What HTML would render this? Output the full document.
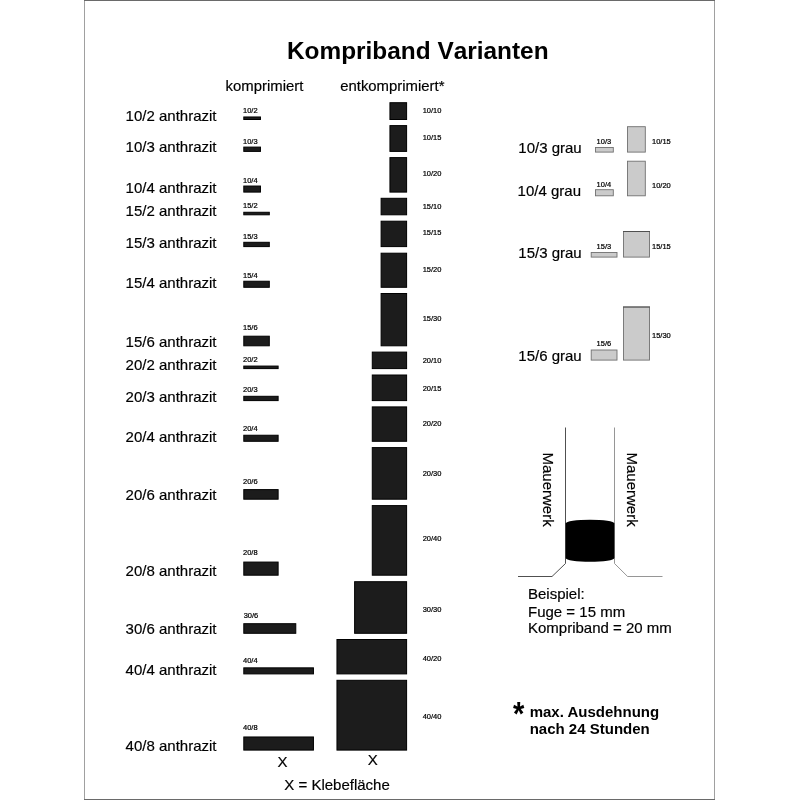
<!DOCTYPE html>
<html lang="de">
<head>
<meta charset="utf-8">
<title>Kompriband Varianten</title>
<style>
html,body{margin:0;padding:0;background:#fff;}
body{width:800px;height:800px;overflow:hidden;}
svg{display:block;}
text{font-family:"Liberation Sans",Arial,Helvetica,sans-serif;fill:#000;}
.big{font-size:15px;stroke:#000;stroke-width:0.18px;}
.sm{font-size:7.5px;fill:#000;stroke:#000;stroke-width:0.22px;}
.b{font-weight:bold;}
</style>
</head>
<body>
<svg width="800" height="800" viewBox="0 0 800 800">
<rect x="0" y="0" width="800" height="800" fill="#ffffff"/>
<!-- frame -->
<rect x="84.5" y="0.5" width="630" height="799" fill="none" stroke="#a0a0a0" stroke-width="1"/>
<line x1="84" y1="0.5" x2="715" y2="0.5" stroke="#6a6a6a" stroke-width="1"/>
<line x1="84" y1="799.5" x2="715" y2="799.5" stroke="#6a6a6a" stroke-width="1"/>

<text class="b" x="287" y="58.9" style="font-size:24.4px;font-kerning:none">Kompriband Varianten</text>
<text class="big" x="225.6" y="91.2" style="font-size:14.9px">komprimiert</text>
<text class="big" x="340.2" y="91.2" style="font-size:14.9px">entkomprimiert*</text>
<!-- entkomprimiert -->
<rect x="389.94" y="102.7" width="16.66" height="16.80" fill="#1c1c1c" stroke="#000" stroke-width="1"/>
<text class="sm" transform="translate(422.70,112.60) scale(1,1.07)">10/10</text>
<rect x="389.94" y="125.6" width="16.66" height="25.80" fill="#1c1c1c" stroke="#000" stroke-width="1"/>
<text class="sm" transform="translate(422.70,139.70) scale(1,1.07)">10/15</text>
<rect x="389.94" y="157.6" width="16.66" height="34.50" fill="#1c1c1c" stroke="#000" stroke-width="1"/>
<text class="sm" transform="translate(422.70,176.40) scale(1,1.07)">10/20</text>
<rect x="381.11" y="198.3" width="25.49" height="16.50" fill="#1c1c1c" stroke="#000" stroke-width="1"/>
<text class="sm" transform="translate(422.70,208.70) scale(1,1.07)">15/10</text>
<rect x="381.11" y="221.2" width="25.49" height="25.40" fill="#1c1c1c" stroke="#000" stroke-width="1"/>
<text class="sm" transform="translate(422.70,235.40) scale(1,1.07)">15/15</text>
<rect x="381.11" y="253.2" width="25.49" height="34.10" fill="#1c1c1c" stroke="#000" stroke-width="1"/>
<text class="sm" transform="translate(422.70,272.10) scale(1,1.07)">15/20</text>
<rect x="381.11" y="293.5" width="25.49" height="52.30" fill="#1c1c1c" stroke="#000" stroke-width="1"/>
<text class="sm" transform="translate(422.70,320.70) scale(1,1.07)">15/30</text>
<rect x="372.28" y="352.1" width="34.32" height="16.50" fill="#1c1c1c" stroke="#000" stroke-width="1"/>
<text class="sm" transform="translate(422.70,362.60) scale(1,1.07)">20/10</text>
<rect x="372.28" y="375.0" width="34.32" height="25.60" fill="#1c1c1c" stroke="#000" stroke-width="1"/>
<text class="sm" transform="translate(422.70,390.80) scale(1,1.07)">20/15</text>
<rect x="372.28" y="406.9" width="34.32" height="34.40" fill="#1c1c1c" stroke="#000" stroke-width="1"/>
<text class="sm" transform="translate(422.70,426.00) scale(1,1.07)">20/20</text>
<rect x="372.28" y="447.6" width="34.32" height="51.60" fill="#1c1c1c" stroke="#000" stroke-width="1"/>
<text class="sm" transform="translate(422.70,475.60) scale(1,1.07)">20/30</text>
<rect x="372.28" y="505.6" width="34.32" height="69.60" fill="#1c1c1c" stroke="#000" stroke-width="1"/>
<text class="sm" transform="translate(422.70,540.60) scale(1,1.07)">20/40</text>
<rect x="354.62" y="581.7" width="51.98" height="51.60" fill="#1c1c1c" stroke="#000" stroke-width="1"/>
<text class="sm" transform="translate(422.70,611.90) scale(1,1.07)">30/30</text>
<rect x="336.96" y="639.5" width="69.64" height="34.40" fill="#1c1c1c" stroke="#000" stroke-width="1"/>
<text class="sm" transform="translate(422.70,660.60) scale(1,1.07)">40/20</text>
<rect x="336.96" y="680.3" width="69.64" height="69.80" fill="#1c1c1c" stroke="#000" stroke-width="1"/>
<text class="sm" transform="translate(422.70,719.10) scale(1,1.07)">40/40</text>
<!-- komprimiert -->
<rect x="243.8" y="116.97" width="16.66" height="2.53" fill="#1c1c1c" stroke="#000" stroke-width="1"/>
<text class="sm" transform="translate(243.00,113.07) scale(1,1.07)">10/2</text>
<text class="big" x="216.5" y="120.50" text-anchor="end">10/2 anthrazit</text>
<rect x="243.8" y="147.10" width="16.66" height="4.30" fill="#1c1c1c" stroke="#000" stroke-width="1"/>
<text class="sm" transform="translate(243.00,143.50) scale(1,1.07)">10/3</text>
<text class="big" x="216.5" y="152.40" text-anchor="end">10/3 anthrazit</text>
<rect x="243.8" y="186.04" width="16.66" height="6.06" fill="#1c1c1c" stroke="#000" stroke-width="1"/>
<text class="sm" transform="translate(243.00,183.34) scale(1,1.07)">10/4</text>
<text class="big" x="216.5" y="193.10" text-anchor="end">10/4 anthrazit</text>
<rect x="243.8" y="212.27" width="25.49" height="2.53" fill="#1c1c1c" stroke="#000" stroke-width="1"/>
<text class="sm" transform="translate(243.00,208.27) scale(1,1.07)">15/2</text>
<text class="big" x="216.5" y="215.80" text-anchor="end">15/2 anthrazit</text>
<rect x="243.8" y="242.30" width="25.49" height="4.30" fill="#1c1c1c" stroke="#000" stroke-width="1"/>
<text class="sm" transform="translate(243.00,238.80) scale(1,1.07)">15/3</text>
<text class="big" x="216.5" y="247.60" text-anchor="end">15/3 anthrazit</text>
<rect x="243.8" y="281.24" width="25.49" height="6.06" fill="#1c1c1c" stroke="#000" stroke-width="1"/>
<text class="sm" transform="translate(243.00,277.74) scale(1,1.07)">15/4</text>
<text class="big" x="216.5" y="288.30" text-anchor="end">15/4 anthrazit</text>
<rect x="243.8" y="336.20" width="25.49" height="9.60" fill="#1c1c1c" stroke="#000" stroke-width="1"/>
<text class="sm" transform="translate(243.00,330.20) scale(1,1.07)">15/6</text>
<text class="big" x="216.5" y="346.80" text-anchor="end">15/6 anthrazit</text>
<rect x="243.8" y="366.07" width="34.32" height="2.53" fill="#1c1c1c" stroke="#000" stroke-width="1"/>
<text class="sm" transform="translate(243.00,361.57) scale(1,1.07)">20/2</text>
<text class="big" x="216.5" y="369.60" text-anchor="end">20/2 anthrazit</text>
<rect x="243.8" y="396.30" width="34.32" height="4.30" fill="#1c1c1c" stroke="#000" stroke-width="1"/>
<text class="sm" transform="translate(243.00,392.05) scale(1,1.07)">20/3</text>
<text class="big" x="216.5" y="401.60" text-anchor="end">20/3 anthrazit</text>
<rect x="243.8" y="435.24" width="34.32" height="6.06" fill="#1c1c1c" stroke="#000" stroke-width="1"/>
<text class="sm" transform="translate(243.00,431.49) scale(1,1.07)">20/4</text>
<text class="big" x="216.5" y="442.30" text-anchor="end">20/4 anthrazit</text>
<rect x="243.8" y="489.60" width="34.32" height="9.60" fill="#1c1c1c" stroke="#000" stroke-width="1"/>
<text class="sm" transform="translate(243.00,484.35) scale(1,1.07)">20/6</text>
<text class="big" x="216.5" y="500.20" text-anchor="end">20/6 anthrazit</text>
<rect x="243.8" y="562.07" width="34.32" height="13.13" fill="#1c1c1c" stroke="#000" stroke-width="1"/>
<text class="sm" transform="translate(243.00,554.82) scale(1,1.07)">20/8</text>
<text class="big" x="216.5" y="576.20" text-anchor="end">20/8 anthrazit</text>
<rect x="243.8" y="623.70" width="51.98" height="9.60" fill="#1c1c1c" stroke="#000" stroke-width="1"/>
<text class="sm" transform="translate(243.70,618.35) scale(1,1.07)">30/6</text>
<text class="big" x="216.5" y="634.30" text-anchor="end">30/6 anthrazit</text>
<rect x="243.8" y="667.84" width="69.64" height="6.06" fill="#1c1c1c" stroke="#000" stroke-width="1"/>
<text class="sm" transform="translate(243.00,662.94) scale(1,1.07)">40/4</text>
<text class="big" x="216.5" y="674.90" text-anchor="end">40/4 anthrazit</text>
<rect x="243.8" y="736.97" width="69.64" height="13.13" fill="#1c1c1c" stroke="#000" stroke-width="1"/>
<text class="sm" transform="translate(243.00,730.47) scale(1,1.07)">40/8</text>
<text class="big" x="216.5" y="751.10" text-anchor="end">40/8 anthrazit</text>
<text class="big" x="282.5" y="767.3" text-anchor="middle">X</text>
<text class="big" x="372.8" y="765.2" text-anchor="middle">X</text>
<text class="big" x="284.3" y="789.8">X = Klebefläche</text>
<!-- grau -->
<text class="big" x="518.3" y="152.7">10/3 grau</text>
<rect x="595.5" y="147.5" width="17.799999999999955" height="4.599999999999994" fill="#cbcbcb" stroke="#707070" stroke-width="0.9"/>
<text class="sm" transform="translate(596.60,144.30) scale(1,1.07)">10/3</text>
<rect x="627.5" y="126.7" width="17.799999999999955" height="25.39999999999999" fill="#cbcbcb" stroke="#707070" stroke-width="0.9"/>
<text class="sm" transform="translate(652.00,144.20) scale(1,1.07)">10/15</text>
<text class="big" x="517.6" y="196.4">10/4 grau</text>
<rect x="595.5" y="189.7" width="17.799999999999955" height="6.100000000000023" fill="#cbcbcb" stroke="#707070" stroke-width="0.9"/>
<text class="sm" transform="translate(596.60,186.80) scale(1,1.07)">10/4</text>
<rect x="627.5" y="161.2" width="17.799999999999955" height="34.60000000000002" fill="#cbcbcb" stroke="#707070" stroke-width="0.9"/>
<text class="sm" transform="translate(652.00,187.50) scale(1,1.07)">10/20</text>
<text class="big" x="518.3" y="257.7">15/3 grau</text>
<rect x="591.2" y="252.5" width="25.799999999999955" height="4.600000000000023" fill="#cbcbcb" stroke="#707070" stroke-width="0.9"/>
<text class="sm" transform="translate(596.60,249.00) scale(1,1.07)">15/3</text>
<rect x="623.5" y="231.5" width="26" height="25.600000000000023" fill="#cbcbcb" stroke="#707070" stroke-width="0.9"/>
<text class="sm" transform="translate(652.00,249.00) scale(1,1.07)">15/15</text>
<line x1="623" y1="231.5" x2="650" y2="231.5" stroke="#505050" stroke-width="1"/>
<text class="big" x="518.3" y="360.7">15/6 grau</text>
<rect x="591.2" y="350.0" width="25.799999999999955" height="10.100000000000023" fill="#cbcbcb" stroke="#707070" stroke-width="0.9"/>
<text class="sm" transform="translate(596.60,345.50) scale(1,1.07)">15/6</text>
<rect x="623.5" y="307.0" width="26" height="53.10000000000002" fill="#cbcbcb" stroke="#707070" stroke-width="0.9"/>
<text class="sm" transform="translate(652.00,337.50) scale(1,1.07)">15/30</text>
<line x1="623" y1="307" x2="650" y2="307" stroke="#505050" stroke-width="1"/>
<!-- Mauerwerk -->
<polyline points="565.5,427.5 565.5,563.5 552,576.5 518,576.5" fill="none" stroke="#3c3c3c" stroke-width="0.9"/>
<polyline points="614.5,427.5 614.5,563.5 627.6,576.5 662.5,576.5" fill="none" stroke="#8a8a8a" stroke-width="0.9"/>
<path d="M565.7,523.6 A24.35,3.9 0 0 1 614.4,523.6 L614.4,557.9 A24.35,3.9 0 0 1 565.7,557.9 Z" fill="#000"/>
<text class="big" transform="translate(542.6,452.5) rotate(90)">Mauerwerk</text>
<text class="big" transform="translate(627.2,452.5) rotate(90)">Mauerwerk</text>
<text class="big" x="528" y="599.2">Beispiel:</text>
<text class="big" x="528" y="616.6">Fuge = 15 mm</text>
<text class="big" x="528" y="633.1">Kompriband = 20 mm</text>
<text class="b" transform="translate(512.9,725.4) scale(0.87,1)" style="font-size:33.5px">*</text>
<text class="b" x="529.7" y="716.5" style="font-size:15px">max. Ausdehnung</text>
<text class="b" x="529.7" y="733.5" style="font-size:15px">nach 24 Stunden</text>
</svg>
</body>
</html>
